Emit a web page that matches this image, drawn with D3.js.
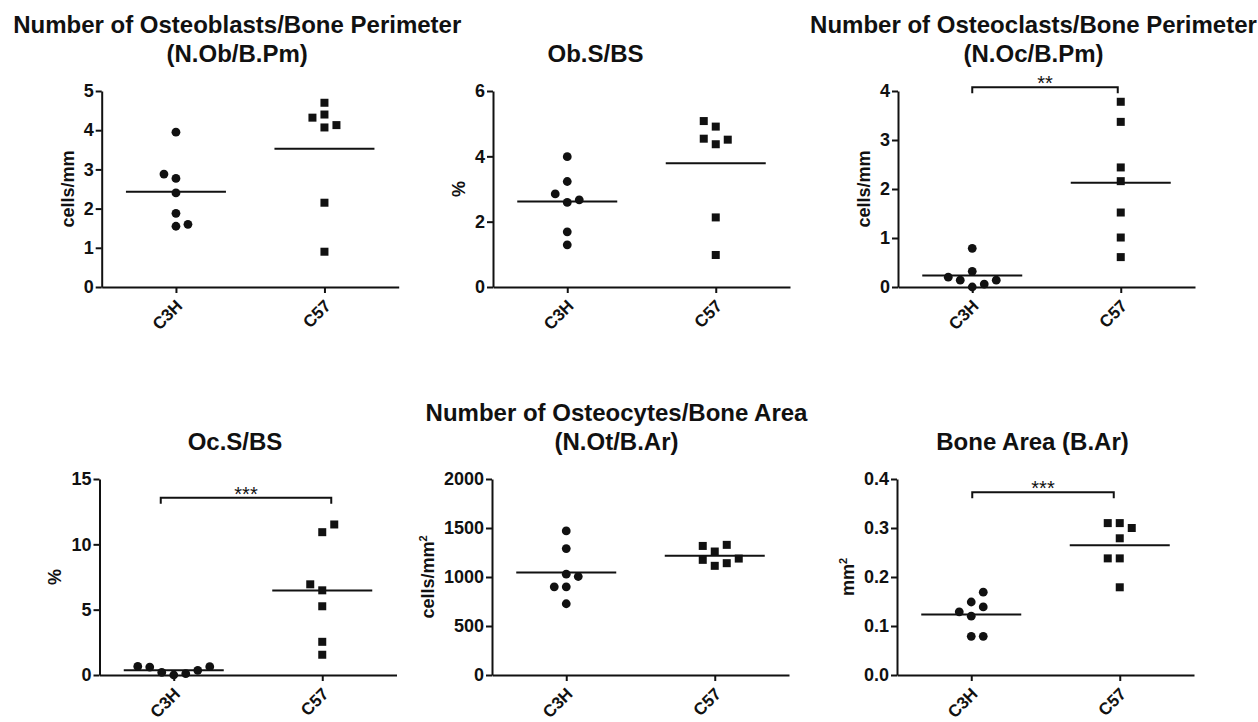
<!DOCTYPE html>
<html>
<head>
<meta charset="utf-8">
<script src="https://cdn.jsdelivr.net/npm/d3@7"></script>
<style>
  body { margin: 0; background: #fff; }
  svg text { font-family: "Liberation Sans", Arial, sans-serif; fill: #111; }
</style>
</head>
<body>
<svg id="chart" width="1258" height="722"></svg>
<script>
// Groups on the x axis
const groups = ["C3H", "C57"];

// N.Ob/B.Pm (cells/mm)
const nObC3H = [3.95, 2.88, 2.77, 2.40, 1.88, 1.60, 1.55];
const nObC57 = [4.70, 4.40, 4.32, 4.13, 4.07, 2.15, 0.90];
// Ob.S/BS (%)
const obSC3H = [3.99, 3.23, 2.85, 2.67, 2.59, 1.69, 1.29];
const obSC57 = [5.08, 4.91, 4.54, 4.51, 4.37, 2.13, 0.98];
// N.Oc/B.Pm (cells/mm)
const nOcC3H = [0.79, 0.32, 0.20, 0.14, 0.14, 0.06, 0.00];
const nOcC57 = [3.78, 3.37, 2.44, 2.16, 1.52, 1.01, 0.61];
// Oc.S/BS (%)
const ocSC3H = [0.66, 0.61, 0.20, 0.00, 0.10, 0.36, 0.64];
const ocSC57 = [11.52, 10.93, 6.94, 6.48, 5.26, 2.54, 1.55];
// N.Ot/B.Ar (cells/mm2)
const nOtC3H = [1470, 1290, 1029, 1005, 900, 900, 727];
const nOtC57 = [1317, 1260, 1328, 1175, 1114, 1141, 1188];
// B.Ar (mm2)
const bArC3H = [0.169, 0.149, 0.139, 0.129, 0.120, 0.079, 0.079];
const bArC57 = [0.310, 0.310, 0.300, 0.279, 0.238, 0.238, 0.179];

// side-by-side column of each dot (scatter spread)
const nObC3HCol = [0, -1, 0, 0, 0, 1, 0];
const nObC57Col = [0, 0, -1, 1, 0, 0, 0];
const obSC3HCol = [0, 0, -1, 1, 0, 0, 0];
const obSC57Col = [-1, 0, -1, 1, 0, 0, 0];
const nOcC3HCol = [0, 0, -2, -1, 2, 1, 0];
const nOcC57Col = [0, 0, 0, 0, 0, 0, 0];
const ocSC3HCol = [-3, -2, -1, 0, 1, 2, 3];
const ocSC57Col = [1, 0, -1, 0, 0, 0, 0];
const nOtC3HCol = [0, 0, 0, 1, -1, 0, 0];
const nOtC57Col = [-1, 0, 1, -1, 0, 1, 2];
const bArC3HCol = [1, 0, 1, -1, 0, 0, 1];
const bArC57Col = [-1, 0, 1, 0, -1, 0, 0];

// axis ticks
const nObTicks = [0, 1, 2, 3, 4, 5];
const obSTicks = [0, 2, 4, 6];
const nOcTicks = [0, 1, 2, 3, 4];
const ocSTicks = [0, 5, 10, 15];
const nOtTicks = [0, 500, 1000, 1500, 2000];
const bArTicks = [0, 0.1, 0.2, 0.3, 0.4];

const panels = [
  { title: ["Number of Osteoblasts/Bone Perimeter", "(N.Ob/B.Pm)"], ylab: "cells/mm", sup: "",
    a: nObC3H, b: nObC57, aCol: nObC3HCol, bCol: nObC57Col, ticks: nObTicks, fmt: d3.format("d"),
    left: 101.7, top: 91, w: 297, tdx: -13 },
  { title: ["Ob.S/BS"], ylab: "%", sup: "",
    a: obSC3H, b: obSC57, aCol: obSC3HCol, bCol: obSC57Col, ticks: obSTicks, fmt: d3.format("d"),
    left: 493, top: 91, w: 297, tdx: -46 },
  { title: ["Number of Osteoclasts/Bone Perimeter", "(N.Oc/B.Pm)"], ylab: "cells/mm", sup: "",
    a: nOcC3H, b: nOcC57, aCol: nOcC3HCol, bCol: nOcC57Col, ticks: nOcTicks, fmt: d3.format("d"),
    left: 898, top: 91, w: 297, tdx: -13, star: "**", starY: 4.075, dA: 0, dB: -3 },
  { title: ["Oc.S/BS"], ylab: "%", sup: "",
    a: ocSC3H, b: ocSC57, aCol: ocSC3HCol, bCol: ocSC57Col, ticks: ocSTicks, fmt: d3.format("d"),
    left: 99.5, top: 479, w: 297, tdx: -13, star: "***", starY: 13.57, dA: -13, dB: 9 },
  { title: ["Number of Osteocytes/Bone Area", "(N.Ot/B.Ar)"], ylab: "cells/mm", sup: "2",
    a: nOtC3H, b: nOtC57, aCol: nOtC3HCol, bCol: nOtC57Col, ticks: nOtTicks, fmt: d3.format("d"),
    left: 492, top: 479, w: 297, tdx: -24 },
  { title: ["Bone Area (B.Ar)"], ylab: "mm", sup: "2",
    a: bArC3H, b: bArC57, aCol: bArC3HCol, bCol: bArC57Col, ticks: bArTicks, fmt: d3.format(".1f"),
    left: 897, top: 479, w: 297, tdx: -13, star: "***", starY: 0.373, dA: 1, dB: -6 }
];

const plotH = 196;
const colStep = 12;
const meanHalf = 50;
const ink = "#111";

const svg = d3.select("#chart");

panels.forEach(function (p) {
  const g = svg.append("g").attr("transform", `translate(${p.left},${p.top})`);

  const x = d3.scalePoint().domain(groups).range([0, p.w]).padding(0.5);
  const y = d3.scaleLinear().domain([0, d3.max(p.ticks)]).range([plotH, 0]);

  // y axis
  const yAxis = g.append("g")
    .call(d3.axisLeft(y).tickValues(p.ticks).tickFormat(p.fmt).tickSize(6).tickSizeOuter(0).tickPadding(2));
  yAxis.selectAll("text").style("font-size", "18px").style("font-weight", "bold");

  // x axis
  const xAxis = g.append("g")
    .attr("transform", `translate(0,${plotH})`)
    .call(d3.axisBottom(x).tickSize(6).tickSizeOuter(0));
  xAxis.selectAll("text")
    .attr("x", 0).attr("y", 0).attr("dy", 0)
    .attr("text-anchor", "end")
    .attr("transform", "translate(7,20) rotate(-45)")
    .style("font-size", "17px").style("font-weight", "bold");

  [yAxis, xAxis].forEach(ax => {
    ax.select(".domain").attr("stroke", ink).attr("stroke-width", 2);
    ax.selectAll(".tick line").attr("stroke", ink).attr("stroke-width", 2);
    ax.selectAll("text").style("fill", ink);
  });

  // y axis label
  const maxW = d3.max(yAxis.selectAll("text").nodes(), n => n.getComputedTextLength());
  const ylab = g.append("text")
    .attr("transform", `translate(${-(8 + maxW + 10)},${plotH / 2}) rotate(-90)`)
    .attr("text-anchor", "middle")
    .style("font-size", "18px").style("font-weight", "bold")
    .text(p.ylab);
  if (p.sup) {
    ylab.append("tspan").attr("dy", -7).style("font-size", "11px").text(p.sup);
  }

  // title
  const cx = p.w / 2 + p.tdx;
  p.title.forEach((t, i) => {
    g.append("text")
      .attr("x", cx)
      .attr("y", -29 - (p.title.length - 1 - i) * 29.5)
      .attr("text-anchor", "middle")
      .style("font-size", "24px").style("font-weight", "bold")
      .text(t);
  });

  // mean lines
  const means = [d3.mean(p.a), d3.mean(p.b)];
  g.selectAll("line.mean")
    .data(groups)
    .join("line")
    .attr("class", "mean")
    .attr("x1", d => x(d) - meanHalf)
    .attr("x2", d => x(d) + meanHalf)
    .attr("y1", (d, i) => y(means[i]))
    .attr("y2", (d, i) => y(means[i]))
    .attr("stroke", ink)
    .attr("stroke-width", 2);

  // C3H dots
  g.selectAll("circle.dot")
    .data(p.a)
    .join("circle")
    .attr("class", "dot")
    .attr("cx", (d, i) => x(groups[0]) + p.aCol[i] * colStep)
    .attr("cy", d => y(d))
    .attr("r", 4.4)
    .attr("fill", ink);

  // C57 squares
  const sq = 8;
  g.selectAll("rect.dot")
    .data(p.b)
    .join("rect")
    .attr("class", "dot")
    .attr("x", (d, i) => x(groups[1]) + p.bCol[i] * colStep - sq / 2)
    .attr("y", d => y(d) - sq / 2)
    .attr("width", sq)
    .attr("height", sq)
    .attr("fill", ink);

  // significance bracket
  if (p.star) {
    const by = y(p.starY);
    const x1 = x(groups[0]) + p.dA;
    const x2 = x(groups[1]) + p.dB;
    g.append("path")
      .attr("d", `M${x1},${by + 6}V${by}H${x2}V${by + 6}`)
      .attr("fill", "none")
      .attr("stroke", ink)
      .attr("stroke-width", 2);
    g.append("text")
      .attr("x", (x1 + x2) / 2)
      .attr("y", by + 3)
      .attr("text-anchor", "middle")
      .style("font-size", "20px")
      .text(p.star);
  }
});
</script>
</body>
</html>
